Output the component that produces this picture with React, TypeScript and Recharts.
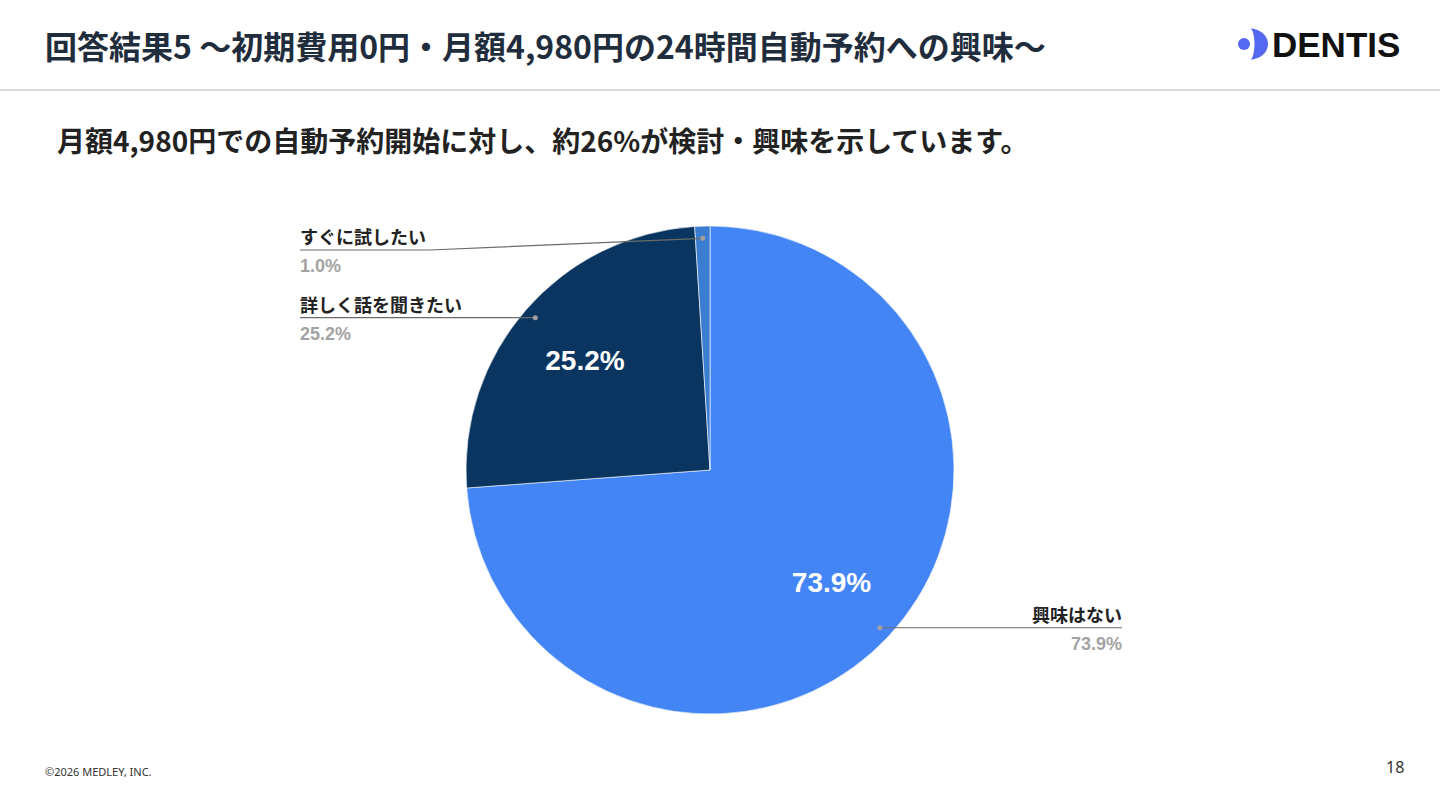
import { PieChart, Pie, Cell } from "recharts"

const answers = ["興味はない", "詳しく話を聞きたい", "すぐに試したい"]
const shares = [73.9, 25.2, 1.0]
const sliceColors = ["#4385f5", "#0a3560", "#3b7dd0"]

const data = answers.map((name, i) => ({ name, value: shares[i] }))

const RAD = Math.PI / 180
const JP = "'Noto Sans CJK JP', 'Noto Sans', sans-serif"
const NUM = "'Liberation Sans', Arial, sans-serif"

function SliceLabel(props: any) {
  const { cx, cy, midAngle, outerRadius, name, value } = props
  const cos = Math.cos(-midAngle * RAD)
  const sin = Math.sin(-midAngle * RAD)
  const dx = cx + outerRadius * 0.95 * cos
  const dy = cy + outerRadius * 0.95 * sin
  const pct = value.toFixed(1) + "%"
  const right = dx > cx + 20
  let line: string
  let tx: number
  let ly = dy
  if (right) {
    tx = cx + 412
    line = `${dx},${dy} ${tx},${dy}`
  } else {
    tx = cx - 410
    ly = Math.max(dy, cy - 220)
    line = ly === dy ? `${tx},${ly} ${dx},${dy}` : `${tx},${ly} ${tx + 130},${ly} ${dx},${dy}`
  }
  const anchor = right ? "end" : "start"
  const ix = cx + outerRadius * 0.68 * cos
  const iy = cy + outerRadius * 0.68 * sin
  return (
    <g>
      <polyline points={line} fill="none" stroke="#6b6b6b" strokeWidth={1.2} />
      <circle cx={dx} cy={dy} r={2.5} fill="#a0a0a0" />
      <text x={tx} y={ly - 6} textAnchor={anchor} fontFamily={JP} fontWeight={700} fontSize={18} fill="#222">
        {name}
      </text>
      <text x={tx} y={ly + 22} textAnchor={anchor} fontFamily={NUM} fontWeight={700} fontSize={18} fill="#a3a3a3">
        {pct}
      </text>
      {value > 5 && (
        <text x={ix} y={iy} textAnchor="middle" dominantBaseline="central" fontFamily={NUM} fontWeight={700} fontSize={28} fill="#fff">
          {pct}
        </text>
      )}
    </g>
  )
}

export default function App() {
  return (
    <div style={{ position: "absolute", left: 0, top: 0, width: 1440, height: 810, background: "#fff", overflow: "hidden" }}>
      <div style={{ position: "absolute", left: 45, top: 25, fontFamily: JP, fontWeight: 700, fontSize: 32, lineHeight: "40px", color: "#1f2d3d", whiteSpace: "nowrap" }}>
        回答結果5 〜初期費用0円・月額4,980円の24時間自動予約への興味〜
      </div>
      <svg style={{ position: "absolute", left: 0, top: 0 }} width={1440} height={90}>
        <circle cx={1244} cy={44} r={6} fill="#5468f0" />
        <path d="M1250,28.5 A18,15.5 0 0 1 1250,59.5 A4.5,15.5 0 0 0 1250,28.5 Z" fill="#5468f0" />
        <text x={1272} y={57} fontFamily={NUM} fontWeight={700} fontSize={35} fill="#111">DENTIS</text>
      </svg>
      <div style={{ position: "absolute", left: 0, top: 89, width: 1440, height: 2, background: "#d9d9d9" }} />
      <div style={{ position: "absolute", left: 57, top: 122, fontFamily: JP, fontWeight: 700, fontSize: 28, lineHeight: "36px", color: "#222", whiteSpace: "nowrap" }}>
        月額4,980円での自動予約開始に対し、約26%が検討・興味を示しています。
      </div>
      <div style={{ position: "absolute", left: 0, top: 0 }}>
        <PieChart width={1440} height={810} margin={{ top: 0, right: 0, bottom: 0, left: 0 }}>
          <Pie
            data={data}
            dataKey="value"
            nameKey="name"
            cx={710}
            cy={470}
            outerRadius={244}
            startAngle={90}
            endAngle={-270}
            stroke="#ffffff"
            strokeWidth={0.6}
            label={SliceLabel}
            labelLine={false}
            isAnimationActive={false}
          >
            {data.map((d, i) => (
              <Cell key={d.name} fill={sliceColors[i]} />
            ))}
          </Pie>
        </PieChart>
      </div>
      <div style={{ position: "absolute", left: 45, top: 764, fontFamily: "'Noto Sans', sans-serif", fontSize: 11, color: "#333" }}>
        ©2026 MEDLEY, INC.
      </div>
      <div style={{ position: "absolute", left: 1386, top: 756, fontFamily: "'Noto Sans', sans-serif", fontSize: 16, color: "#333" }}>
        18
      </div>
    </div>
  )
}
